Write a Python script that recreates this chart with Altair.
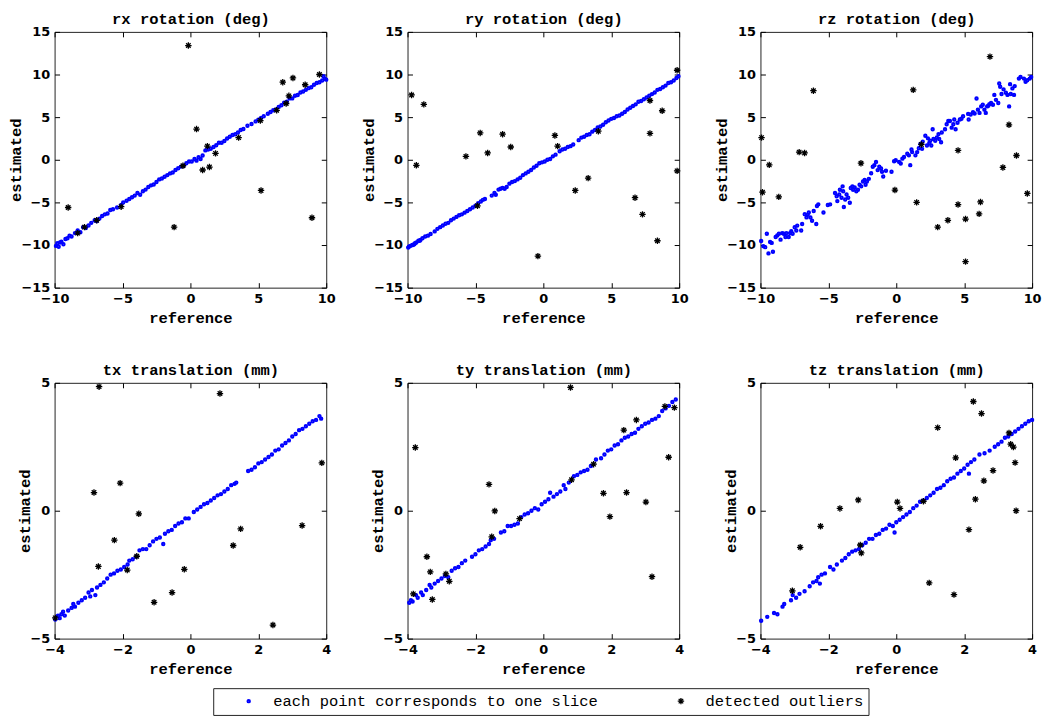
import altair as alt
import pandas as pd

KIND_SLICE = "each point corresponds to one slice"
KIND_OUT = "detected outliers"

# ---------------- data (reference, estimated) ----------------
rx_slices = [(-9.9, -10.1), (-9.8, -9.8), (-9.7, -10.2), (-9.6, -9.7), (-9.5, -9.6), (-9.35, -9.9), (-9.2, -9.3),
             (-9.05, -9.2), (-8.9, -8.9), (-8.75, -9.0), (-8.5, -8.6), (-8.3, -8.3), (-8.1, -8.5), (-7.9, -7.9),
             (-7.7, -8.0), (-7.5, -7.7), (-7.3, -7.4), (-7.05, -7.1), (-6.9, -7.2), (-6.7, -6.9), (-6.5, -6.6),
             (-6.3, -6.4), (-6.1, -6.3), (-5.9, -5.9), (-5.7, -5.8), (-5.4, -5.6), (-5.1, -5.3), (-4.95, -5.0),
             (-4.7, -4.8), (-4.5, -4.6), (-4.3, -4.4), (-4.1, -4.2), (-3.9, -3.9), (-3.7, -4.1), (-3.5, -3.7),
             (-3.3, -3.5), (-3.1, -3.2), (-2.9, -3.0), (-2.7, -2.9), (-2.5, -2.6), (-2.3, -2.3), (-2.1, -2.2),
             (-1.9, -2.0), (-1.7, -1.8), (-1.5, -1.6), (-1.3, -1.5), (-1.1, -1.2), (-0.9, -1.0), (-0.7, -0.8),
             (-0.5, -0.7), (-0.3, -0.4), (-0.1, -0.2), (0.1, -0.2), (0.3, 0.1), (0.45, -0.1), (0.6, 0.3),
             (0.75, 0.1), (0.9, 0.5), (1.1, 1.1), (1.3, 1.2), (1.5, 1.3), (1.7, 1.5), (1.9, 1.7), (2.1, 2.0),
             (2.3, 2.0), (2.5, 2.2), (2.7, 2.5), (2.9, 2.7), (3.1, 2.9), (3.3, 3.0), (3.5, 3.2), (3.7, 3.5),
             (3.9, 3.6), (4.2, 4.0), (4.5, 4.2), (4.8, 4.5), (5.0, 4.7), (5.2, 4.9), (5.4, 5.1), (5.7, 5.4),
             (5.9, 5.6), (6.1, 5.8), (6.3, 5.9), (6.5, 6.2), (6.7, 6.4), (6.9, 6.7), (7.1, 6.8), (7.3, 7.2),
             (7.5, 7.2), (7.7, 7.5), (7.9, 7.6), (8.1, 7.9), (8.3, 8.0), (8.5, 8.2), (8.7, 8.4), (8.9, 8.5),
             (9.1, 8.8), (9.3, 9.0), (9.5, 9.1), (9.7, 9.3), (9.8, 9.8), (9.9, 9.5), (10.0, 9.4)]
rx_outliers = [(-9.0, -5.6), (-8.3, -8.6), (-7.8, -7.9), (-6.9, -7.1), (-5.1, -5.5), (-1.2, -7.9), (-0.15, 13.4),
               (-0.55, -0.7), (0.45, 3.6), (0.9, -1.2), (1.25, 1.6), (1.4, -0.85), (1.85, 0.75), (3.55, 2.6),
               (5.15, 4.6), (5.2, -3.6), (6.35, 5.8), (6.8, 9.1), (7.05, 6.6), (7.25, 7.5), (7.55, 9.6),
               (8.45, 8.8), (8.95, -6.8), (9.5, 10.0)]

ry_slices = [(-9.95, -10.3), (-9.9, -10.2), (-9.8, -10.1), (-9.65, -10.0), (-9.6, -10.0), (-9.5, -9.9),
             (-9.45, -9.8), (-9.35, -9.7), (-9.2, -9.5), (-9.1, -9.5), (-9.05, -9.4), (-8.9, -9.2), (-8.7, -9.0),
             (-8.5, -8.9), (-8.3, -8.7), (-8.0, -8.4), (-7.8, -8.1), (-7.6, -7.9), (-7.4, -7.7), (-7.2, -7.5),
             (-7.0, -7.4), (-6.8, -7.1), (-6.6, -6.9), (-6.4, -6.7), (-6.2, -6.5), (-6.0, -6.4), (-5.8, -6.2),
             (-5.6, -6.0), (-5.4, -5.8), (-5.2, -5.6), (-5.0, -5.4), (-4.8, -5.1), (-4.6, -4.9), (-4.45, -4.7),
             (-4.3, -4.6), (-3.8, -4.2), (-3.6, -3.9), (-3.5, -4.1), (-3.3, -3.5), (-3.15, -3.4), (-3.0, -3.3),
             (-2.85, -3.4), (-2.7, -3.2), (-2.5, -2.8), (-2.3, -2.6), (-2.1, -2.5), (-1.9, -2.3), (-1.7, -2.1),
             (-1.5, -1.8), (-1.3, -1.6), (-1.1, -1.4), (-0.9, -1.2), (-0.7, -0.9), (-0.5, -0.7), (-0.3, -0.4),
             (-0.1, -0.3), (0.1, -0.2), (0.3, 0.0), (0.5, 0.1), (0.7, 0.4), (0.9, 0.6), (1.2, 1.0), (1.4, 1.2),
             (1.6, 1.3), (1.8, 1.5), (2.0, 1.6), (2.2, 1.8), (2.6, 2.3), (2.8, 2.6), (3.0, 2.7), (3.2, 2.9),
             (3.4, 3.0), (3.6, 3.3), (3.8, 3.5), (4.0, 3.8), (4.2, 3.9), (4.4, 4.1), (4.6, 4.4), (4.8, 4.6),
             (5.0, 4.8), (5.2, 4.9), (5.4, 5.1), (5.6, 5.2), (5.8, 5.4), (6.0, 5.6), (6.2, 5.9), (6.4, 6.1),
             (6.6, 6.3), (6.8, 6.5), (7.0, 6.8), (7.2, 6.9), (7.4, 7.1), (7.6, 7.3), (7.8, 7.5), (8.0, 7.7),
             (8.2, 7.9), (8.4, 8.2), (8.6, 8.3), (8.8, 8.5), (9.0, 8.7), (9.2, 9.0), (9.4, 9.1), (9.6, 9.3),
             (9.8, 9.6), (9.95, 9.8)]
ry_outliers = [(-9.7, 7.6), (-8.8, 6.5), (-9.35, -0.65), (-5.7, 0.4), (-4.65, 3.15), (-4.85, -5.4), (-4.1, 0.8),
               (-3.0, 3.0), (-2.4, 1.5), (-0.4, -11.3), (0.85, 2.85), (1.05, 1.6), (2.35, -3.6), (3.3, -2.15),
               (4.05, 3.35), (6.75, -4.45), (7.3, -6.4), (7.85, 6.95), (7.85, 3.1), (8.75, 5.75), (8.4, -9.5),
               (9.85, 10.5), (9.85, -1.3)]

rz_slices = [(-9.95, -9.52), (-9.79, -10.13), (-9.65, -10.25), (-9.53, -8.68), (-9.41, -10.98), (-9.29, -9.64),
             (-9.17, -9.75), (-9.08, -10.78), (-8.88, -9.06), (-8.76, -8.87), (-8.64, -8.68), (-8.52, -9.37),
             (-8.40, -8.60), (-8.28, -8.68), (-8.16, -9.06), (-8.09, -8.60), (-7.92, -9.06), (-7.82, -8.60),
             (-7.73, -8.37), (-7.63, -8.68), (-7.48, -7.91), (-7.36, -8.30), (-7.29, -7.72), (-7.00, -8.30),
             (-6.93, -7.53), (-6.74, -6.38), (-6.61, -6.76), (-6.52, -6.46), (-6.44, -6.19), (-6.32, -6.76),
             (-6.20, -7.15), (-6.08, -6.00), (-5.89, -7.53), (-5.84, -5.42), (-5.74, -5.23), (-5.36, -6.19),
             (-5.04, -5.31), (-4.87, -5.23), (-4.51, -3.89), (-4.39, -4.27), (-4.34, -4.85), (-4.20, -4.08),
             (-4.15, -3.51), (-4.03, -4.46), (-3.95, -3.12), (-3.91, -3.70), (-3.86, -5.54), (-3.76, -4.66),
             (-3.66, -4.08), (-3.54, -4.46), (-3.42, -5.04), (-3.35, -3.31), (-3.23, -3.12), (-3.18, -3.51),
             (-3.06, -3.24), (-2.94, -3.70), (-2.82, -3.51), (-2.70, -2.93), (-2.58, -3.12), (-2.45, -2.55),
             (-2.33, -2.36), (-2.26, -2.93), (-2.16, -2.55), (-2.02, -2.24), (-1.85, -1.59), (-1.73, -0.82),
             (-1.61, -0.63), (-1.49, -0.25), (-1.37, -1.21), (-1.25, -0.82), (-1.12, -1.02), (-1.05, -1.40),
             (-0.96, -1.97), (-0.76, -1.28), (-0.35, -1.40), (-0.16, -0.17), (-0.04, -0.06), (0.21, -0.25),
             (0.33, -0.44), (0.45, 0.13), (0.57, 0.33), (0.81, 0.71), (0.93, 0.52), (1.03, -0.63), (1.12, 1.21),
             (1.17, 0.90), (1.41, 0.52), (1.54, 0.90), (1.66, 1.36), (1.78, 1.86), (1.90, 1.28), (1.95, 2.13),
             (2.14, 2.82), (2.26, 1.67), (2.33, 2.51), (2.43, 1.97), (2.50, 2.24), (2.58, 1.67), (2.68, 3.58),
             (2.74, 2.43), (2.87, 2.24), (2.99, 2.62), (3.11, 3.01), (3.16, 2.43), (3.30, 2.05), (3.35, 3.20),
             (3.59, 3.58), (3.71, 4.16), (3.83, 4.54), (3.95, 4.54), (4.08, 3.77), (4.20, 4.16), (4.27, 4.73),
             (4.37, 3.58), (4.51, 4.35), (4.68, 4.73), (4.80, 4.81), (4.92, 5.11), (5.29, 5.38), (5.33, 4.73),
             (5.48, 5.31), (5.65, 5.57), (5.77, 5.42), (5.91, 7.18), (6.01, 5.88), (6.13, 5.50), (6.25, 6.26),
             (6.37, 6.46), (6.49, 5.88), (6.59, 5.50), (6.69, 6.26), (6.78, 6.34), (6.86, 6.53), (6.98, 6.65),
             (7.12, 6.46), (7.22, 7.61), (7.34, 7.03), (7.51, 6.65), (7.58, 8.95), (7.65, 8.56), (7.75, 7.72),
             (7.90, 8.26), (8.07, 7.87), (8.19, 7.61), (8.31, 6.26), (8.38, 8.87), (8.43, 7.72), (8.55, 8.37),
             (8.67, 7.61), (8.72, 8.64), (9.03, 9.52), (9.15, 9.71), (9.40, 9.52), (9.52, 9.14), (9.64, 9.33),
             (9.83, 9.52), (9.93, 9.71)]
rz_outliers = [(-9.92, 2.6), (-9.85, -3.8), (-9.35, -0.6), (-8.65, -4.35), (-7.15, 0.9), (-6.75, 0.8),
               (-6.1, 8.1), (-2.6, -0.4), (-0.1, -3.55), (1.25, 8.2), (1.5, -5.0), (1.85, 1.8), (3.05, -7.9),
               (3.8, -7.1), (4.55, 1.1), (4.55, -5.25), (5.1, -6.95), (5.1, -11.95), (6.1, -6.35), (6.2, -4.95),
               (6.9, 12.1), (7.85, -0.9), (8.3, 4.1), (8.85, 0.5), (9.65, -3.95)]

tx_slices = [(-3.98, -4.25), (-3.9, -4.1), (-3.85, -4.2), (-3.8, -4.05), (-3.75, -3.95), (-3.7, -4.1),
             (-3.6, -3.9), (-3.5, -3.8), (-3.45, -3.65), (-3.4, -3.75), (-3.3, -3.6), (-3.2, -3.5), (-3.1, -3.4),
             (-3.0, -3.2), (-2.95, -3.35), (-2.9, -3.1), (-2.8, -3.3), (-2.75, -3.0), (-2.65, -2.9),
             (-2.55, -2.8), (-2.45, -2.65), (-2.35, -2.5), (-2.25, -2.45), (-2.15, -2.35), (-2.05, -2.3),
             (-1.95, -2.2), (-1.85, -2.1), (-1.8, -1.95), (-1.7, -1.9), (-1.6, -1.8), (-1.5, -1.55), (-1.4, -1.5),
             (-1.3, -1.5), (-1.2, -1.35), (-1.1, -1.2), (-1.0, -1.1), (-0.9, -1.05), (-0.8, -1.3), (-0.75, -0.9),
             (-0.65, -0.8), (-0.55, -0.75), (-0.45, -0.6), (-0.35, -0.5), (-0.25, -0.45), (-0.15, -0.3),
             (-0.05, -0.3), (0.1, -0.05), (0.2, 0.05), (0.3, 0.15), (0.4, 0.25), (0.5, 0.3), (0.6, 0.4),
             (0.7, 0.5), (0.8, 0.6), (0.9, 0.65), (1.0, 0.75), (1.1, 0.85), (1.2, 1.0), (1.3, 1.05), (1.35, 1.1),
             (1.7, 1.55), (1.8, 1.6), (1.9, 1.7), (2.0, 1.85), (2.1, 1.9), (2.2, 2.0), (2.3, 2.1), (2.4, 2.2),
             (2.5, 2.35), (2.6, 2.4), (2.7, 2.55), (2.8, 2.65), (2.9, 2.75), (3.0, 2.9), (3.1, 3.0), (3.2, 3.15),
             (3.3, 3.2), (3.4, 3.3), (3.5, 3.4), (3.6, 3.5), (3.7, 3.55), (3.8, 3.7), (3.85, 3.6)]
tx_outliers = [(-2.69, 4.85), (-2.84, 0.71), (-2.07, 1.08), (-2.24, -1.15), (-1.52, -0.12), (-2.71, -2.18),
               (-1.86, -2.32), (-1.58, -1.78), (-1.07, -3.58), (-0.54, -3.2), (-0.18, -2.29), (-3.98, -4.19),
               (0.87, 4.58), (1.26, -1.36), (1.48, -0.71), (2.43, -4.47), (3.29, -0.58), (3.87, 1.87)]

ty_slices = [(-3.95, -3.6), (-3.9, -3.5), (-3.85, -3.55), (-3.75, -3.3), (-3.7, -3.4), (-3.6, -3.2),
             (-3.55, -3.3), (-3.45, -3.1), (-3.35, -2.9), (-3.3, -3.0), (-3.2, -2.85), (-3.1, -2.75),
             (-3.0, -2.65), (-2.9, -2.55), (-2.8, -2.6), (-2.7, -2.35), (-2.6, -2.25), (-2.5, -2.2), (-2.4, -2.05),
             (-2.3, -1.95), (-2.1, -1.8), (-2.0, -1.7), (-1.9, -1.55), (-1.8, -1.5), (-1.7, -1.4), (-1.6, -1.3),
             (-1.55, -1.15), (-1.45, -1.1), (-1.25, -0.85), (-1.15, -0.8), (-1.05, -0.6), (-0.95, -0.6),
             (-0.85, -0.55), (-0.75, -0.5), (-0.65, -0.25), (-0.55, -0.15), (-0.45, -0.1), (-0.35, 0.0),
             (-0.25, 0.1), (-0.15, 0.05), (-0.05, 0.25), (0.05, 0.35), (0.15, 0.45), (0.2, 0.7), (0.3, 0.55),
             (0.4, 0.65), (0.5, 0.75), (0.6, 1.0), (0.65, 0.85), (0.75, 1.1), (0.9, 1.35), (1.0, 1.4), (1.1, 1.5),
             (1.2, 1.55), (1.3, 1.6), (1.4, 1.75), (1.55, 2.0), (1.7, 2.05), (1.8, 2.2), (1.9, 2.35), (2.0, 2.4),
             (2.1, 2.55), (2.2, 2.6), (2.3, 2.75), (2.4, 2.85), (2.5, 2.9), (2.6, 3.0), (2.7, 3.05), (2.8, 3.2),
             (2.9, 3.3), (3.0, 3.4), (3.1, 3.45), (3.2, 3.55), (3.3, 3.6), (3.4, 3.7), (3.5, 3.9), (3.6, 4.0),
             (3.7, 4.1), (3.8, 4.25), (3.9, 4.35)]
ty_outliers = [(-3.77, 2.47), (-3.83, -3.25), (-3.43, -1.8), (-3.33, -2.39), (-3.27, -3.47), (-2.87, -2.47),
               (-2.77, -2.76), (-1.6, 1.03), (-1.43, -0.01), (-1.52, -1.02), (-0.7, -0.31), (0.8, 4.82),
               (0.83, 1.21), (1.48, 1.82), (1.77, 0.68), (1.96, -0.23), (2.37, 3.15), (2.45, 0.71), (2.74, 3.55),
               (3.02, 0.34), (3.2, -2.58), (3.58, 4.08), (3.69, 2.09), (3.86, 4.03)]

tz_slices = [(-3.98, -4.3), (-3.8, -4.15), (-3.6, -4.0), (-3.5, -4.05), (-3.35, -3.75), (-3.3, -3.65),
             (-3.1, -3.5), (-3.05, -3.3), (-2.95, -3.4), (-2.85, -3.25), (-2.7, -3.15), (-2.55, -2.95),
             (-2.45, -2.8), (-2.35, -2.75), (-2.3, -2.6), (-2.25, -2.85), (-2.2, -2.5), (-2.1, -2.45),
             (-1.95, -2.2), (-1.85, -2.3), (-1.75, -2.1), (-1.6, -1.95), (-1.5, -1.85), (-1.4, -1.7), (-1.3, -1.6),
             (-1.2, -1.55), (-1.1, -1.5), (-1.0, -1.35), (-0.9, -1.25), (-0.8, -1.1), (-0.7, -1.1), (-0.6, -0.95),
             (-0.5, -0.9), (-0.4, -0.75), (-0.3, -0.7), (-0.2, -0.55), (-0.1, -0.6), (-0.05, -0.85), (0.0, -0.45),
             (0.1, -0.35), (0.2, -0.25), (0.3, -0.15), (0.4, -0.05), (0.5, 0.1), (0.6, 0.2), (0.7, 0.35),
             (0.8, 0.4), (0.9, 0.5), (1.0, 0.6), (1.1, 0.7), (1.2, 0.85), (1.3, 0.9), (1.4, 1.0), (1.5, 1.15),
             (1.6, 1.25), (1.7, 1.3), (1.8, 1.45), (1.9, 1.55), (2.0, 1.65), (2.1, 1.8), (2.14, 1.45), (2.2, 1.9),
             (2.3, 2.0), (2.45, 2.2), (2.6, 2.25), (2.75, 2.35), (2.9, 2.5), (3.0, 2.6), (3.1, 2.7), (3.2, 2.85),
             (3.3, 2.9), (3.4, 3.0), (3.5, 3.1), (3.6, 3.2), (3.7, 3.3), (3.8, 3.4), (3.9, 3.5), (4.0, 3.55)]
tz_outliers = [(-3.06, -3.13), (-2.83, -1.43), (-2.23, -0.61), (-1.66, 0.09), (-1.12, 0.42), (-1.06, -1.34),
               (-1.03, -1.65), (0.03, 0.34), (0.11, 0.09), (0.8, 0.37), (0.97, -2.82), (1.22, 3.25),
               (1.7, -3.28), (1.75, 2.07), (2.14, -0.74), (2.27, 4.27), (2.33, 0.45), (2.51, 3.8), (2.58, 1.17),
               (2.85, 1.57), (3.32, 3.04), (3.37, 2.6), (3.45, 2.49), (3.5, 1.88), (3.53, 0.0)]

titles = ["rx rotation (deg)", "ry rotation (deg)", "rz rotation (deg)",
          "tx translation (mm)", "ty translation (mm)", "tz translation (mm)"]
rot_x_ticks = [-10, -5, 0, 5, 10]
rot_y_ticks = [-15, -10, -5, 0, 5, 10, 15]
tr_x_ticks = [-4, -2, 0, 2, 4]
tr_y_ticks = [-5, 0, 5]

# ---------------- styling ----------------
W, H = 274, 258
MONO = "Liberation Mono"
SANS = "DejaVu Sans"
ASTERISK = "M-1,0L1,0M0,-1L0,1M-0.7,-0.7L0.7,0.7M-0.7,0.7L0.7,-0.7"
KINDS = [KIND_SLICE, KIND_OUT]

legend = alt.Legend(
    title=None, orient="none", legendX=160, legendY=662, direction="horizontal", columns=2,
    strokeColor="#222222", fillColor="white", padding=5, symbolOffset=23, labelOffset=17,
    columnPadding=52, labelFont=MONO, labelFontSize=15.6, labelColor="black", labelLimit=500,
)


def axis_main(orient, values, title):
    return alt.Axis(orient=orient, values=values, offset=-5, tickSize=5, tickColor="black", tickWidth=1,
                    domain=False, grid=False, labelFont=SANS, labelFontWeight="bold", labelFontSize=13,
                    labelColor="black", labelPadding=5, labelFlush=False, labelOverlap=False,
                    title=title, titleFont=MONO, titleFontWeight="bold", titleFontSize=15.6,
                    titleColor="black", titlePadding=-3 if orient == "left" else 5)


def axis_top(values, title):
    return alt.Axis(orient="top", values=values, offset=-5, tickSize=5, tickColor="black", tickWidth=1,
                    domain=False, grid=False, labels=False, minExtent=0, maxExtent=0,
                    title=title, titleFont=MONO, titleFontWeight="bold", titleFontSize=15.6,
                    titleColor="black", titlePadding=10)


def axis_right(values):
    return alt.Axis(orient="right", values=values, offset=-5, tickSize=5, tickColor="black", tickWidth=1,
                    domain=False, grid=False, labels=False, title=None, minExtent=0, maxExtent=0)


def panel(title, slices, outliers, xdom, ydom, xt, yt):
    df = pd.DataFrame(
        [{"ref": a, "est": b, "kind": KIND_SLICE} for a, b in slices]
        + [{"ref": a, "est": b, "kind": KIND_OUT} for a, b in outliers]
    )
    xs = alt.Scale(domain=xdom, nice=False, zero=False)
    ys = alt.Scale(domain=ydom, nice=False, zero=False)
    base = alt.Chart(df)
    pts = base.mark_point(filled=False, opacity=1).encode(
        x=alt.X("ref:Q", scale=xs, axis=axis_main("bottom", xt, "reference")),
        y=alt.Y("est:Q", scale=ys, axis=axis_main("left", yt, "estimated")),
        color=alt.Color("kind:N", scale=alt.Scale(domain=KINDS, range=["#0000ff", "#000000"]), legend=legend),
        shape=alt.Shape("kind:N", scale=alt.Scale(domain=KINDS, range=["circle", ASTERISK]), legend=legend),
        size=alt.Size("kind:N", scale=alt.Scale(domain=KINDS, range=[6, 42]), legend=legend),
        strokeWidth=alt.StrokeWidth("kind:N", scale=alt.Scale(domain=KINDS, range=[2, 1.3]), legend=legend),
    )
    mirror = base.mark_point(opacity=0).encode(
        x=alt.X("ref:Q", scale=xs, axis=axis_top(xt, title)),
        y=alt.Y("est:Q", scale=ys, axis=axis_right(yt)),
    )
    return alt.layer(pts, mirror).resolve_axis(x="independent", y="independent").properties(
        width=W, height=H,
    )


rot = ([-10, 10], [-15, 15], rot_x_ticks, rot_y_ticks)
tr = ([-4, 4], [-5, 5], tr_x_ticks, tr_y_ticks)
charts = [
    panel(titles[0], rx_slices, rx_outliers, *rot),
    panel(titles[1], ry_slices, ry_outliers, *rot),
    panel(titles[2], rz_slices, rz_outliers, *rot),
    panel(titles[3], tx_slices, tx_outliers, *tr),
    panel(titles[4], ty_slices, ty_outliers, *tr),
    panel(titles[5], tz_slices, tz_outliers, *tr),
]

chart = alt.concat(*charts, columns=3, bounds="flush",
                   spacing=alt.RowColnumber(row=96, column=82)).properties(
    padding=0, background="white"
).configure_view(stroke="#222222", strokeWidth=1)

chart.save("out.html", embed_options={"renderer": "svg", "actions": False})
